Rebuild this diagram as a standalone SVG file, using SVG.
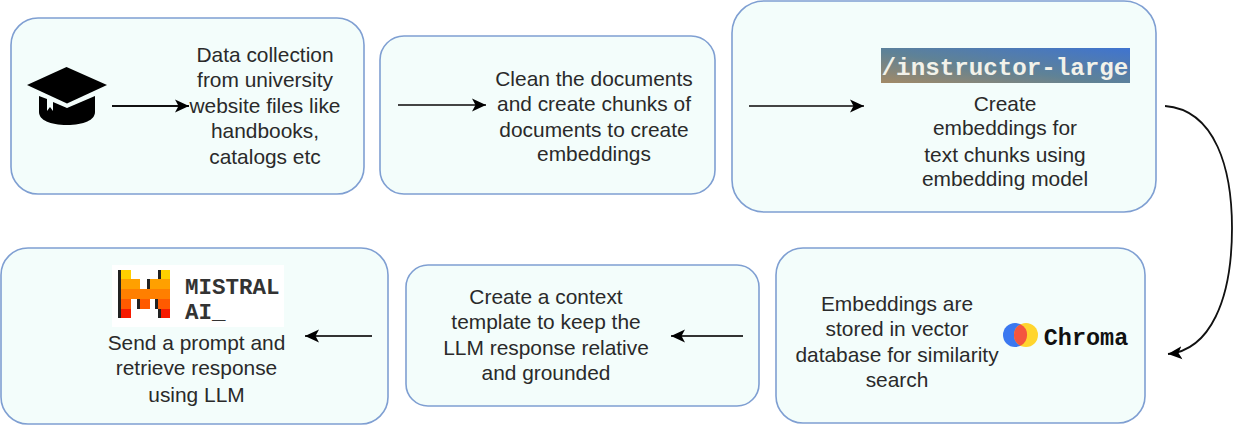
<svg xmlns="http://www.w3.org/2000/svg" width="1234" height="425" viewBox="0 0 1234 425">
<style>
.box{fill:#f3fdfb;stroke:#7f9fd2;stroke-width:1.6}
text{font-family:"Liberation Sans",Arial,sans-serif;font-size:20.9px;fill:#2a2a2a;text-anchor:middle}
.mono{font-family:"Liberation Mono","DejaVu Sans Mono",monospace;font-weight:bold}
.c{fill:none;stroke:#111;stroke-width:1.8}
</style>
<defs>
<marker id="a" markerUnits="userSpaceOnUse" markerWidth="16" markerHeight="14" refX="14" refY="7" orient="auto"><path d="M0 0.5 L14 7 L0 13.5 L3.5 7 Z" fill="#000"/></marker>
<linearGradient id="g" x1="0" y1="1" x2="1" y2="0"><stop offset="0" stop-color="#a38a66"/><stop offset=".45" stop-color="#5f8296"/><stop offset="1" stop-color="#3f74d0"/></linearGradient>
</defs>
<g id="node-collect">
<rect class="box" x="11" y="18" width="353" height="176" rx="27"/>
<path d="M66.500 67 L107 85 L67 103.500 L27 85 Z" fill="#000"/>
<path d="M39 96 L39 112 C39 120 50 125 67 125 C84 125 95 120 95 112 L95 96 L67 108 L53 102 L53 111 L50 107 L47 111 L47 99 Z" fill="#000"/>
<text x="265" y="62">Data collection</text><text x="265" y="87">from university</text><text x="265" y="113">website files like</text><text x="265" y="138">handbooks,</text><text x="265" y="164">catalogs etc</text>
</g>
<g id="node-clean">
<rect class="box" x="380" y="36" width="335" height="158" rx="24"/>
<text x="594" y="86">Clean the documents</text><text x="594" y="111">and create chunks of</text><text x="594" y="137">documents to create</text><text x="594" y="161">embeddings</text>
</g>
<g id="node-embed">
<rect class="box" x="732" y="1" width="424" height="211" rx="32"/>
<rect x="881" y="48" width="249" height="35" fill="url(#g)"/>
<text class="mono" x="1005" y="75" style="font-size:24.200px;fill:#f2f2ea">/instructor-large</text>
<text x="1005" y="111">Create</text><text x="1005" y="135">embeddings for</text><text x="1005" y="162">text chunks using</text><text x="1005" y="186">embedding model</text>
</g>
<g id="node-chroma">
<rect class="box" x="776" y="248" width="369" height="175" rx="27"/>
<text x="897" y="311">Embeddings are</text><text x="897" y="336">stored in vector</text><text x="897" y="362">database for similarity</text><text x="897" y="387">search</text>
<circle cx="1015" cy="335" r="12" fill="#3b78f0"/><circle cx="1026" cy="335" r="12" fill="#ffd52e"/>
<path d="M1020.500 324.300 A12 12 0 0 1 1020.500 345.700 A12 12 0 0 1 1020.500 324.300 Z" fill="#f4553f"/>
<text class="mono" x="1086" y="345" style="font-size:23.500px;fill:#111">Chroma</text>
</g>
<g id="node-context">
<rect class="box" x="406" y="265" width="353" height="141" rx="22"/>
<text x="546" y="304">Create a context</text><text x="546" y="329">template to keep the</text><text x="546" y="355">LLM response relative</text><text x="546" y="380">and grounded</text>
</g>
<g id="node-mistral">
<rect class="box" x="1" y="248" width="387" height="176" rx="27"/>
<rect x="112" y="265" width="172" height="62" fill="#fff"/>
<path d="M118 270h13v9h-13ZM158 270h12v9h-12Z" fill="#ffd000"/>
<path d="M118 279h22v10h-22ZM147 279h23v10h-23Z" fill="#ffa000"/>
<rect x="118" y="289" width="52" height="10" fill="#ff7f00"/>
<path d="M118 299h13v10h-13ZM137 299h13v10h-13ZM155 299h15v10h-15Z" fill="#ff5a00"/>
<path d="M118 309h13v9h-13ZM158 309h12v9h-12Z" fill="#f61a00"/>
<path d="M118 270h3v48h-3ZM158 270h3v9h-3ZM147 279h3v10h-3ZM137 299h3v10h-3ZM155 299h3v10h-3ZM158 309h3v9h-3Z" fill="#222"/>
<text class="mono" x="185" y="294" style="font-size:22.500px;fill:#333;text-anchor:start">MISTRAL</text>
<text class="mono" x="185" y="319" style="font-size:22.500px;fill:#333;text-anchor:start">AI_</text>
<text x="196.500" y="350">Send a prompt and</text><text x="196.500" y="375">retrieve response</text><text x="196.500" y="402">using LLM</text>
</g>
<g id="connectors">
<path class="c" d="M112 106 H189" marker-end="url(#a)"/>
<path class="c" d="M398 105 H486" marker-end="url(#a)" style="stroke:#444"/>
<path class="c" d="M749 106 H864" marker-end="url(#a)" style="stroke:#444"/>
<path class="c" d="M1165 106 C1216 110 1232 170 1232 228 C1232 300 1210 350 1168 354" marker-end="url(#a)"/>
<path class="c" d="M743 336 H671" marker-end="url(#a)" style="stroke:#333"/>
<path class="c" d="M372 336 H305" marker-end="url(#a)" style="stroke:#333"/>
</g>
</svg>
